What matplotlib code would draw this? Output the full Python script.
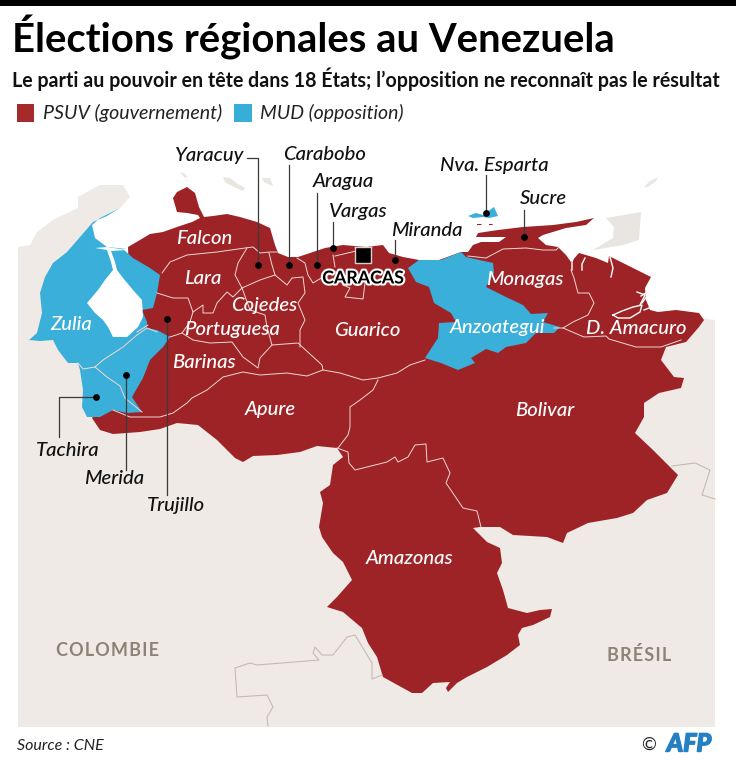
# coding: utf-8
import matplotlib
matplotlib.use('Agg')
from matplotlib import pyplot as plt
from matplotlib import patheffects as pe

RED = '#9e2327'
BLUE = '#39afd9'
LAND = '#f0eae6'
BORDER = '#f0d8d4'
GREY_LINE = '#c4bcb1'
GREY_TEXT = '#8c8377'

# map outlines, in picture coordinates
venezuela = [(128,247),(140,240),(150,234),(163,232),(177,227),(192,222),(200,218),(198,215),(187,213),(177,212),
    (173,198),(177,192),(187,187),(195,193),(199,207),(204,217),(213,216),(227,214),(240,217),(257,222),(270,228),
    (275,245),(278,253),(288,257),(298,257),(310,253),(325,248),(343,245),(366,247),(383,245),(389,253),(403,257),
    (419,260),(439,260),(461,252),(468,252),(473,245),(481,242),(499,242),(506,237),(489,237),(476,237),(478,233),
    (498,230),(523,227),(553,225),(576,222),(594,218),(586,225),(566,228),(543,235),(538,238),(546,245),(558,247),
    (566,255),(571,262),(579,253),(596,258),(608,263),(609,256),(623,263),(651,277),(645,288),(646,300),(650,310),
    (658,312),(676,310),(699,313),(704,320),(699,327),(686,342),(666,347),(661,360),(674,377),(684,378),(681,388),
    (659,393),(644,403),(644,417),(635,433),(653,450),(678,475),(667,493),(647,500),(633,513),(617,518),(588,523),
    (567,533),(563,543),(547,537),(513,535),(500,527),(480,527),(473,528),(487,542),(500,548),(502,563),(497,573),
    (503,590),(508,608),(527,613),(540,610),(552,609),(550,617),(533,625),(522,628),(518,635),(520,645),(507,655),
    (487,667),(467,677),(457,683),(448,692),(446,688),(450,682),(433,683),(422,693),(412,693),(383,677),(377,657),
    (368,643),(362,628),(343,612),(327,607),(337,597),(352,580),(343,562),(333,553),(322,537),(319,527),(323,503),
    (320,492),(330,485),(333,465),(343,457),(337,448),(317,446),(300,452),(277,455),(253,456),(243,462),(235,458),
    (217,440),(198,425),(177,423),(160,429),(140,432),(113,434),(100,430),(92,418),(110,395),(130,300)]
zulia = [(120,208),(107,216),(93,222),(80,237),(67,252),(53,263),(45,277),(40,293),(42,313),(37,333),(29,340),
    (40,341),(53,340),(58,350),(68,363),(78,363),(83,369),(95,367),(103,360),(123,347),(137,335),(147,328),
    (147,322),(142,310),(153,308),(157,293),(160,275),(150,268),(133,258),(123,249),(127,249),(107,247),(95,238),
    (92,225),(100,218)]
tachira = [(78,363),(83,369),(95,367),(107,377),(120,386),(125,398),(142,412),(127,413),(113,410),(100,417),
    (87,417),(82,407),(83,390),(80,370)]
merida = [(95,367),(103,360),(123,347),(137,335),(147,328),(157,330),(170,337),(163,347),(150,360),(143,378),
    (132,397),(142,412),(125,398),(120,386),(107,377)]
anzoategui = [(408,268),(419,260),(441,260),(461,252),(466,257),(493,263),(494,273),(486,287),(506,297),(523,305),
    (531,314),(548,313),(543,322),(560,327),(554,333),(536,333),(526,343),(506,347),(498,353),(486,349),(471,358),
    (475,363),(458,370),(441,363),(425,358),(438,338),(439,323),(456,322),(451,313),(434,303),(429,287),(416,282)]
nva_esparta = [(468,216),(476,213),(483,215),(494,207),(498,216),(489,218),(483,217),(473,218)]
lake = [(95,248),(107,250),(111,262),(113,270),(105,280),(98,290),(87,303),(95,313),(103,320),(108,327),(113,337),
    (127,337),(138,327),(143,317),(142,300),(133,290),(123,278),(117,270),(115,262),(111,251),(127,250),(107,247)]
land = [(18,247),(30,245),(37,232),(53,220),(78,208),(78,197),(100,185),(123,185),(130,197),(120,208),(100,218),
    (90,228),(80,300),(300,330),(680,330),(703,318),(715,320),(715,727),(18,727)]
islands = [
    [(180,172),(184,173),(188,178),(184,177)],
    [(223,177),(230,178),(238,184),(245,188),(243,191),(232,186),(225,182)],
    [(262,178),(270,178),(273,186),(268,184),(264,182)],
    [(606,218),(641,212),(639,240),(623,245),(593,250),(613,238),(614,227)],
    [(644,187),(650,181),(658,177),(656,181),(648,187)],
]
islets = [[(477,224),(482,224),(481,225),(477,225)], [(489,224),(493,224),(492,225),(489,225)]]

state_borders = [
    [(162,273),(170,262),(187,255),(217,252),(245,248),(253,247),(260,253),(270,252),(277,252)],
    [(247,248),(238,263),(235,275),(242,288),(260,280),(275,275),(272,265),(269,253)],
    [(157,293),(173,298),(188,298),(193,312),(203,305),(203,313),(213,313),(217,303),(227,292),(233,297),(242,288)],
    [(193,312),(190,322),(182,333),(170,337)],
    [(182,333),(193,340),(210,343),(232,342),(243,357),(258,368),(260,358),(272,345),(298,343),(322,365),(323,370)],
    [(242,288),(250,310),(265,315),(267,327),(272,345)],
    [(275,275),(287,285),(292,278),(303,277),(305,293),(298,303),(305,320),(300,330),(300,347)],
    [(297,258),(305,263),(308,275),(313,283),(323,277),(335,272)],
    [(333,255),(335,267)],
    [(335,256),(352,252),(372,247)],
    [(343,285),(350,288),(345,297),(363,299),(365,283)],
    [(113,410),(130,417),(160,417),(173,413),(187,403),(192,398),(207,390),(223,377),(243,372),(260,375),(287,373),
     (307,376),(323,370),(340,373),(363,380),(378,378),(397,373),(410,365),(425,360)],
    [(378,380),(373,390),(360,400),(350,407),(350,427),(348,435),(338,448)],
    [(337,448),(348,452),(349,463),(355,470),(387,462),(395,457),(398,462),(408,457),(415,445),(426,444),(427,462),
     (443,458),(450,473),(446,483),(463,508),(477,511),(481,527)],
    [(468,256),(486,258),(503,249),(526,248),(543,250),(556,250),(559,247)],
    [(571,270),(574,278),(578,293),(589,293),(594,303),(588,315),(573,322),(563,328)],
    [(554,328),(563,328),(584,337),(606,336),(609,339),(636,347),(661,347),(681,340)],
    [(78,363),(83,369),(95,367),(103,360),(123,347),(137,335),(147,328),(157,332)],
    [(95,367),(107,377),(120,386),(125,398),(142,412)],
    [(137,332),(148,325)],
]
delta_channels = [
    [(613,315),(622,311),(633,307),(642,305),(640,312),(630,318),(618,318),(613,315)],
    [(640,305),(645,295),(637,292)],
    [(642,303),(650,292),(656,285)],
    [(641,296),(652,289)],
    [(644,310),(654,306)],
    [(575,252),(572,262),(572,270)],
    [(585,258),(582,264),(582,270)],
    [(610,257),(613,268),(611,277)],
]
neighbour_borders = [
    [(382,675),(372,679),(372,663),(355,635),(347,637),(333,655),(322,655),(315,647),(313,653),(319,660),(257,665),
     (250,663),(235,668),(237,697),(267,695),(273,707),(267,717),(268,726)],
    [(672,466),(695,463),(710,470),(702,495),(715,499)],
]

# black state names with their leader lines
callout_names = ['Yaracuy', 'Carabobo', 'Aragua', 'Vargas', 'Miranda', 'Nva. Esparta', 'Sucre', 'Tachira', 'Merida', 'Trujillo']
callout_x = [210, 325, 343, 358, 427, 494, 543, 68, 114, 176]
callout_y = [155, 155, 182, 212, 230, 166, 199, 451, 478, 505]
leaders = [
    [(247,158),(258,158),(258,265)],
    [(289,165),(289,265)],
    [(317,193),(317,265)],
    [(333,222),(333,248)],
    [(395,240),(395,260)],
    [(486,175),(486,213)],
    [(524,210),(524,237)],
    [(96,397),(59,397),(59,437)],
    [(126,375),(126,470)],
    [(167,319),(167,495)],
]
dots_x = [258, 289, 317, 333, 395, 486, 524, 96, 126, 167]
dots_y = [265, 265, 265, 248, 260, 213, 237, 397, 375, 319]

# white state names
state_names = ['Falcon', 'Lara', 'Cojedes', 'Portuguesa', 'Zulia', 'Barinas', 'Apure', 'Guarico', 'Monagas',
               'Anzoategui', 'D. Amacuro', 'Bolivar', 'Amazonas']
state_x = [204, 203, 264, 232, 71, 204, 270, 367, 525, 497, 636, 545, 410]
state_y = [238, 278, 305, 330, 325, 362, 409, 331, 279, 327, 328, 410, 558]


def fill_shape(ax, points, color, **kwargs):
    xs, ys = zip(*points)
    ax.fill(xs, ys, color=color, linewidth=0, **kwargs)


def draw_line(ax, points, color, width, **kwargs):
    xs, ys = zip(*points)
    ax.plot(xs, ys, color=color, linewidth=width, solid_joinstyle='round', **kwargs)


def spaced(word):
    return '\u200a'.join(word)


plt.rcParams['font.family'] = ['Lato', 'DejaVu Sans']
fig = plt.figure(figsize=(7.36, 7.68), dpi=100)
ax = fig.add_axes([0, 0, 1, 1])
ax.set_xlim(0, 736)
ax.set_ylim(768, 0)
ax.axis('off')

# top bar
fill_shape(ax, [(0,0),(736,0),(736,6),(0,6)], 'black')

# base map
fill_shape(ax, land, LAND)
for island in islands:
    fill_shape(ax, island, '#e9e5e1')
for line in neighbour_borders:
    draw_line(ax, line, GREY_LINE, 0.8)
fill_shape(ax, venezuela, RED)
for islet in islets:
    fill_shape(ax, islet, RED)
for shape in [zulia, tachira, merida, anzoategui, nva_esparta]:
    fill_shape(ax, shape, BLUE)
fill_shape(ax, lake, 'white')
for line in state_borders:
    draw_line(ax, line, BORDER, 0.7)
for line in delta_channels:
    draw_line(ax, line, 'white', 1.0)

# leaders
for line in leaders:
    draw_line(ax, line, '#3a3a3a', 0.9)
ax.scatter(dots_x, dots_y, s=24, color='black', zorder=5, linewidths=0)

# Caracas
fill_shape(ax, [(355,247),(371,247),(371,263),(355,263)], 'black', zorder=5)
ax.plot([355,371,371,355,355], [247,247,263,263,247], color='#d8d0cc', linewidth=1.0, zorder=5)
ax.text(363, 278, 'CARACAS', fontsize=12.8, fontweight='bold', color='black', ha='center', va='center', zorder=6,
        path_effects=[pe.withStroke(linewidth=3, foreground='white')])

for name, x, y in zip(state_names, state_x, state_y):
    ax.text(x, y, name, fontsize=14.6, style='italic', fontweight='medium', color='white', ha='center', va='center', zorder=6)
for name, x, y in zip(callout_names, callout_x, callout_y):
    ax.text(x, y, name, fontsize=14.6, style='italic', fontweight='medium', color='#111111', ha='center', va='center', zorder=6)

ax.text(107, 650, spaced('COLOMBIE'), fontsize=13, fontweight='bold', color=GREY_TEXT, ha='center', va='center')
ax.text(639, 655, spaced('BRÉSIL'), fontsize=13, fontweight='bold', color=GREY_TEXT, ha='center', va='center')

# header
ax.text(12, 53, 'Élections régionales au Venezuela', fontsize=28.8, fontweight='bold', color='black', ha='left', va='baseline')
ax.text(12, 87, 'Le parti au pouvoir en tête dans 18 États; l’opposition ne reconnaît pas le résultat', fontsize=14.1,
        fontweight='bold', color='#111111', ha='left', va='baseline')

# legend
fill_shape(ax, [(17,104),(34,104),(34,122),(17,122)], '#a52a2c')
ax.text(43, 113, 'PSUV (gouvernement)', fontsize=14.1, style='italic', color='#222222', ha='left', va='center')
fill_shape(ax, [(234,104),(252,104),(252,122),(234,122)], '#36aed8')
ax.text(260, 113, 'MUD (opposition)', fontsize=14, style='italic', color='#222222', ha='left', va='center')

# footer
ax.text(17, 746, 'Source : CNE', fontsize=11.5, style='italic', color='#222222', ha='left', va='center')
ax.text(649, 745, '©', fontsize=13, color='#222222', ha='center', va='center')
ax.text(689, 744, 'AFP', fontsize=18, style='italic', fontweight='black', color='#2480c4', ha='center', va='center',
        path_effects=[pe.withStroke(linewidth=1.0, foreground='#2480c4')])

fig.savefig('out.png', dpi=100)
